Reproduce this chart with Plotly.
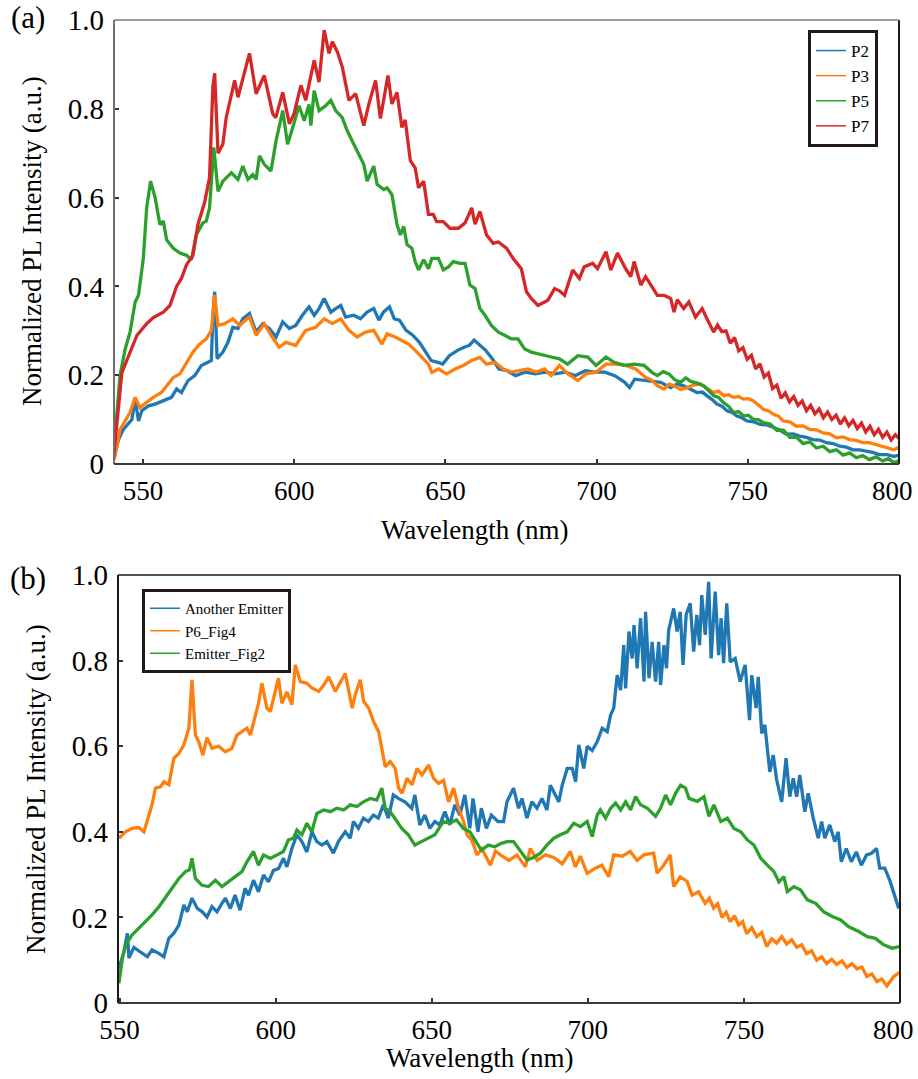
import plotly.graph_objects as go

# ---------------- Panel (a) data ----------------
p2_wl = [540.0, 541.9, 543.5, 545.2, 546.3, 547.4, 548.5, 549.6, 551.8, 554.0,
         556.7, 559.4, 561.1, 562.7, 564.9, 567.1, 569.3, 571.5, 572.6, 573.1,
         573.7, 574.5, 576.4, 578.1, 579.7, 581.4, 583.0, 585.2, 587.4, 589.6,
         591.8, 594.0, 596.2, 598.4, 600.5, 602.7, 604.9, 606.6, 608.2, 609.9,
         612.1, 613.7, 615.4, 617.0, 619.7, 621.9, 624.1, 626.3, 628.0, 629.5,
         631.5, 633.1, 634.8, 637.0, 639.2, 641.4, 643.6, 645.3, 647.5, 649.1,
         651.3, 654.0, 656.2, 657.9, 659.5, 661.1, 663.3, 665.5, 667.7, 670.4,
         673.2, 676.4, 679.7, 683.0, 686.3, 689.6, 692.9, 696.2, 699.5, 702.7,
         706.0, 709.3, 710.9, 712.6, 715.9, 719.2, 721.2, 724.5, 726.6, 728.8,
         731.0, 733.2, 734.9, 736.5, 738.2, 739.8, 741.5, 743.1, 744.8, 746.4,
         748.0, 749.7, 751.9, 754.1, 756.3, 758.5, 760.7, 762.8, 765.0, 767.2,
         769.4, 771.6, 773.8, 776.0, 778.2, 780.4, 782.6, 784.8, 787.0, 789.1,
         791.3, 793.5, 796.0, 798.4, 800.0]
p2_val = [0.005, 0.055, 0.078, 0.090, 0.100, 0.146, 0.097, 0.120, 0.131, 0.135,
          0.142, 0.150, 0.169, 0.161, 0.188, 0.199, 0.222, 0.229, 0.233, 0.335,
          0.388, 0.237, 0.252, 0.274, 0.308, 0.305, 0.327, 0.339, 0.297, 0.316,
          0.305, 0.286, 0.320, 0.305, 0.312, 0.335, 0.354, 0.335, 0.350, 0.373,
          0.342, 0.350, 0.357, 0.331, 0.335, 0.327, 0.342, 0.350, 0.324, 0.342,
          0.354, 0.327, 0.324, 0.301, 0.290, 0.274, 0.252, 0.233, 0.229, 0.225,
          0.244, 0.256, 0.263, 0.267, 0.279, 0.270, 0.256, 0.237, 0.214, 0.210,
          0.199, 0.207, 0.203, 0.207, 0.203, 0.207, 0.199, 0.210, 0.207, 0.207,
          0.199, 0.184, 0.172, 0.191, 0.188, 0.184, 0.184, 0.172, 0.180, 0.176,
          0.168, 0.161, 0.162, 0.154, 0.145, 0.135, 0.130, 0.120, 0.116, 0.108,
          0.104, 0.097, 0.095, 0.089, 0.088, 0.082, 0.076, 0.067, 0.068, 0.063,
          0.060, 0.055, 0.054, 0.048, 0.046, 0.040, 0.038, 0.032, 0.032, 0.029,
          0.026, 0.021, 0.021, 0.017, 0.020]

p3_wl = [540.5, 542.4, 544.1, 545.7, 547.4, 549.0, 551.2, 553.4, 556.1, 557.8,
         560.0, 562.2, 564.4, 566.5, 568.7, 570.9, 572.6, 573.7, 574.8, 577.0,
         579.7, 581.9, 585.2, 587.4, 590.1, 592.3, 595.0, 597.2, 600.5, 603.8,
         607.1, 609.9, 612.6, 615.4, 618.1, 620.8, 623.6, 626.3, 629.0, 630.7,
         633.4, 635.6, 637.8, 640.0, 642.2, 644.4, 645.5, 647.7, 650.4, 653.2,
         655.9, 658.7, 661.4, 663.6, 666.4, 669.1, 671.8, 674.6, 677.3, 680.0,
         682.8, 685.0, 687.7, 690.5, 693.8, 696.5, 699.8, 703.1, 706.4, 709.6,
         712.9, 716.2, 718.0, 720.1, 722.3, 724.0, 725.6, 727.8, 730.0, 732.2,
         734.4, 736.5, 738.7, 740.3, 742.0, 743.6, 745.3, 746.9, 748.6, 750.2,
         751.9, 753.5, 755.2, 756.8, 758.5, 760.1, 761.7, 763.9, 766.1, 768.3,
         770.5, 772.7, 774.9, 777.1, 779.3, 781.5, 783.7, 785.9, 788.0, 790.2,
         792.4, 795.0, 798.4, 800.0]
p3_val = [0.010, 0.078, 0.097, 0.116, 0.150, 0.127, 0.139, 0.150, 0.161, 0.176,
          0.195, 0.203, 0.229, 0.252, 0.270, 0.282, 0.301, 0.380, 0.312, 0.316,
          0.327, 0.312, 0.331, 0.290, 0.316, 0.290, 0.263, 0.274, 0.267, 0.301,
          0.308, 0.327, 0.316, 0.327, 0.301, 0.286, 0.297, 0.301, 0.270, 0.293,
          0.286, 0.279, 0.270, 0.256, 0.240, 0.225, 0.206, 0.214, 0.203, 0.214,
          0.222, 0.233, 0.240, 0.225, 0.229, 0.214, 0.207, 0.210, 0.214, 0.207,
          0.214, 0.199, 0.222, 0.203, 0.188, 0.203, 0.207, 0.225, 0.225, 0.222,
          0.214, 0.195, 0.190, 0.176, 0.169, 0.180, 0.176, 0.168, 0.172, 0.178,
          0.180, 0.170, 0.161, 0.164, 0.154, 0.156, 0.150, 0.152, 0.146, 0.147,
          0.142, 0.133, 0.123, 0.120, 0.112, 0.108, 0.097, 0.095, 0.085, 0.086,
          0.078, 0.077, 0.070, 0.068, 0.059, 0.061, 0.055, 0.053, 0.048, 0.048,
          0.044, 0.040, 0.032, 0.038]

p5_wl = [540.2, 542.4, 544.1, 545.7, 547.4, 548.5, 550.1, 551.2, 552.5, 554.0,
         555.6, 556.7, 557.8, 560.0, 562.2, 564.4, 566.0, 567.6, 569.8, 570.9,
         572.0, 573.4, 574.8, 576.4, 579.2, 581.4, 583.0, 584.7, 586.3, 587.4,
         588.5, 590.1, 592.3, 594.0, 596.2, 597.8, 599.5, 601.6, 603.3, 604.9,
         605.5, 606.6, 608.2, 610.4, 612.1, 613.7, 615.9, 617.5, 619.7, 621.4,
         623.0, 624.1, 626.3, 627.4, 629.6, 630.7, 632.3, 634.0, 635.1, 636.2,
         637.3, 638.9, 640.0, 641.1, 642.8, 644.4, 645.5, 647.7, 649.3, 651.0,
         652.6, 654.8, 656.5, 658.1, 659.8, 661.4, 663.1, 665.2, 667.5, 669.6,
         671.8, 674.0, 676.2, 678.4, 680.6, 682.8, 685.0, 687.7, 690.4, 693.8,
         697.1, 699.8, 703.1, 705.8, 709.1, 712.4, 715.7, 718.4, 720.1, 722.0,
         723.9, 725.8, 727.8, 729.5, 731.1, 733.3, 735.5, 737.1, 738.7, 740.3,
         742.0, 743.6, 745.3, 746.9, 748.6, 750.2, 751.9, 753.5, 755.2, 757.4,
         759.6, 761.8, 763.9, 766.1, 768.3, 770.5, 772.7, 774.9, 777.1, 779.3,
         781.5, 783.7, 785.9, 788.0, 790.2, 792.4, 794.6, 796.5, 798.4, 800.0]
p5_val = [0.020, 0.199, 0.259, 0.297, 0.365, 0.380, 0.463, 0.577, 0.637, 0.600,
          0.539, 0.547, 0.505, 0.486, 0.475, 0.470, 0.460, 0.516, 0.543, 0.547,
          0.577, 0.713, 0.614, 0.637, 0.656, 0.641, 0.671, 0.641, 0.652, 0.641,
          0.694, 0.675, 0.660, 0.728, 0.796, 0.720, 0.758, 0.807, 0.773, 0.810,
          0.762, 0.841, 0.796, 0.807, 0.819, 0.796, 0.780, 0.751, 0.720, 0.698,
          0.675, 0.637, 0.671, 0.630, 0.618, 0.622, 0.607, 0.539, 0.516, 0.535,
          0.494, 0.486, 0.456, 0.437, 0.460, 0.440, 0.463, 0.463, 0.437, 0.444,
          0.456, 0.452, 0.452, 0.403, 0.395, 0.350, 0.335, 0.312, 0.297, 0.290,
          0.282, 0.282, 0.259, 0.252, 0.248, 0.244, 0.241, 0.237, 0.225, 0.244,
          0.241, 0.222, 0.241, 0.229, 0.222, 0.225, 0.222, 0.206, 0.199, 0.208,
          0.203, 0.190, 0.184, 0.194, 0.186, 0.182, 0.176, 0.165, 0.154, 0.150,
          0.138, 0.130, 0.116, 0.118, 0.108, 0.110, 0.100, 0.100, 0.093, 0.090,
          0.076, 0.076, 0.060, 0.060, 0.046, 0.050, 0.036, 0.040, 0.028, 0.032,
          0.020, 0.025, 0.014, 0.019, 0.010, 0.016, 0.007, 0.012, 0.003, 0.008]

p7_wl = [540.2, 543.0, 548.0, 551.2, 553.4, 556.7, 558.9, 561.1, 562.7, 564.4,
         566.5, 568.2, 570.4, 572.0, 573.1, 573.7, 574.8, 576.4, 577.5, 580.3,
         581.4, 583.6, 585.2, 587.4, 590.1, 592.9, 593.9, 596.2, 598.4, 600.0,
         602.2, 603.8, 605.5, 606.6, 608.2, 609.9, 611.5, 612.6, 614.3, 615.9,
         618.1, 620.3, 623.0, 624.7, 626.9, 628.5, 631.0, 632.3, 634.0, 635.6,
         636.7, 638.4, 640.0, 641.1, 642.8, 644.4, 646.0, 647.1, 649.3, 651.5,
         654.3, 656.5, 658.7, 659.8, 661.4, 663.6, 665.8, 667.5, 670.2, 672.4,
         675.1, 676.8, 678.4, 680.6, 683.9, 686.1, 687.7, 689.4, 692.1, 694.3,
         695.9, 698.7, 700.3, 703.1, 704.7, 706.9, 709.6, 711.3, 712.4, 714.6,
         716.2, 717.9, 720.1, 722.3, 724.5, 725.6, 726.7, 728.8, 730.5, 732.7,
         734.9, 736.5, 738.7, 740.0, 741.4, 742.8, 744.2, 745.6, 747.0, 748.4,
         749.8, 751.2, 752.6, 754.0, 755.4, 756.8, 758.2, 759.6, 761.0, 762.4,
         763.8, 765.2, 766.6, 768.0, 769.4, 770.8, 772.2, 773.6, 775.0, 776.4,
         777.8, 779.2, 780.6, 782.0, 783.4, 784.8, 786.2, 787.6, 789.0, 790.4,
         791.8, 793.2, 794.6, 796.0, 797.4, 798.8, 800.0]
p7_val = [0.010, 0.206, 0.290, 0.316, 0.330, 0.342, 0.357, 0.400, 0.418, 0.449,
          0.470, 0.540, 0.590, 0.645, 0.850, 0.880, 0.700, 0.720, 0.780, 0.864,
          0.826, 0.887, 0.925, 0.834, 0.875, 0.789, 0.780, 0.837, 0.766, 0.790,
          0.853, 0.819, 0.871, 0.909, 0.860, 0.977, 0.925, 0.951, 0.928, 0.894,
          0.819, 0.834, 0.762, 0.811, 0.864, 0.778, 0.875, 0.811, 0.837, 0.758,
          0.775, 0.683, 0.667, 0.622, 0.637, 0.562, 0.562, 0.546, 0.546, 0.531,
          0.531, 0.543, 0.577, 0.540, 0.569, 0.516, 0.497, 0.500, 0.486, 0.463,
          0.440, 0.388, 0.373, 0.357, 0.369, 0.395, 0.390, 0.380, 0.437, 0.418,
          0.444, 0.452, 0.440, 0.478, 0.437, 0.475, 0.440, 0.422, 0.456, 0.403,
          0.422, 0.403, 0.380, 0.380, 0.373, 0.342, 0.370, 0.350, 0.365, 0.331,
          0.350, 0.327, 0.297, 0.313, 0.298, 0.300, 0.272, 0.285, 0.255, 0.262,
          0.236, 0.245, 0.214, 0.226, 0.196, 0.205, 0.170, 0.178, 0.148, 0.160,
          0.140, 0.152, 0.132, 0.142, 0.120, 0.132, 0.113, 0.124, 0.104, 0.117,
          0.100, 0.110, 0.090, 0.104, 0.086, 0.098, 0.080, 0.092, 0.072, 0.085,
          0.066, 0.078, 0.060, 0.072, 0.054, 0.066, 0.058]

# ---------------- Panel (b) data ----------------
another_wl = [549.8, 551.4, 552.5, 553.0, 554.6, 556.7, 558.9, 560.4, 562.6, 564.2,
              565.8, 567.4, 569.0, 570.6, 571.7, 573.2, 574.9, 576.5, 578.0, 579.6,
              581.2, 582.8, 583.9, 585.5, 587.0, 588.6, 590.2, 591.3, 592.9, 594.5,
              596.1, 597.7, 599.3, 600.9, 602.5, 603.6, 605.2, 606.8, 608.4, 610.0,
              611.6, 613.2, 614.8, 616.4, 618.5, 620.1, 622.3, 623.9, 624.9, 626.5,
              628.1, 629.7, 631.3, 632.9, 634.5, 636.1, 637.7, 639.3, 641.4, 643.6,
              644.6, 646.2, 647.8, 649.4, 651.0, 652.6, 654.2, 655.8, 657.4, 659.0,
              660.6, 662.2, 663.2, 664.8, 665.9, 667.5, 669.1, 671.2, 673.0, 674.1,
              676.2, 677.8, 678.9, 680.5, 682.1, 683.7, 685.3, 686.9, 688.0, 689.6,
              690.7, 691.8, 693.4, 695.0, 696.1, 697.1, 698.7, 699.8, 701.4, 703.0,
              704.6, 706.2, 707.3, 708.3, 709.4, 710.5, 711.5, 712.1, 713.2, 714.2,
              714.8, 715.8, 716.9, 718.0, 718.5, 719.6, 720.6, 721.7, 722.7, 723.3,
              724.4, 725.2, 725.9, 727.5, 728.6, 729.6, 730.5, 731.5, 732.8, 733.9,
              734.9, 735.8, 736.5, 737.6, 738.7, 739.5, 740.8, 741.9, 742.7, 743.5,
              744.5, 745.6, 747.2, 748.8, 750.4, 751.8, 752.5, 753.9, 754.6, 755.7,
              756.7, 758.3, 759.4, 760.5, 762.1, 763.5, 764.7, 765.8, 766.9, 767.9,
              769.5, 770.6, 772.2, 773.8, 774.9, 775.9, 777.5, 779.1, 780.2, 781.2,
              782.8, 784.4, 786.0, 787.6, 789.3, 790.9, 792.5, 793.5, 795.1, 796.7,
              798.3, 799.6]
another_val = [0.081, 0.120, 0.163, 0.105, 0.130, 0.120, 0.108, 0.124, 0.116, 0.108,
               0.151, 0.163, 0.182, 0.229, 0.213, 0.245, 0.221, 0.213, 0.201, 0.225,
               0.213, 0.233, 0.245, 0.221, 0.252, 0.217, 0.268, 0.252, 0.287, 0.260,
               0.299, 0.283, 0.310, 0.314, 0.338, 0.318, 0.361, 0.393, 0.377, 0.353,
               0.400, 0.377, 0.369, 0.377, 0.350, 0.377, 0.400, 0.385, 0.424, 0.408,
               0.432, 0.424, 0.439, 0.432, 0.463, 0.432, 0.486, 0.478, 0.470, 0.455,
               0.486, 0.416, 0.439, 0.408, 0.424, 0.416, 0.447, 0.416, 0.463, 0.439,
               0.486, 0.408, 0.478, 0.400, 0.455, 0.408, 0.439, 0.424, 0.424, 0.470,
               0.502, 0.455, 0.478, 0.432, 0.470, 0.455, 0.478, 0.451, 0.509, 0.486,
               0.470, 0.509, 0.548, 0.548, 0.517, 0.603, 0.548, 0.600, 0.590, 0.610,
               0.642, 0.634, 0.673, 0.689, 0.766, 0.731, 0.836, 0.735, 0.868, 0.805,
               0.883, 0.782, 0.899, 0.751, 0.914, 0.759, 0.844, 0.751, 0.844, 0.743,
               0.836, 0.782, 0.871, 0.922, 0.868, 0.914, 0.790, 0.907, 0.934, 0.821,
               0.907, 0.836, 0.953, 0.860, 0.984, 0.805, 0.961, 0.813, 0.899, 0.794,
               0.934, 0.797, 0.805, 0.751, 0.790, 0.661, 0.766, 0.689, 0.762, 0.630,
               0.650, 0.540, 0.579, 0.521, 0.470, 0.572, 0.482, 0.525, 0.482, 0.533,
               0.447, 0.490, 0.432, 0.385, 0.424, 0.385, 0.416, 0.377, 0.400, 0.330,
               0.361, 0.330, 0.353, 0.322, 0.346, 0.350, 0.361, 0.315, 0.315, 0.287,
               0.252, 0.221]

p6_wl = [549.8, 551.9, 554.0, 556.2, 557.8, 559.4, 560.4, 561.5, 563.1, 564.2,
         565.8, 567.4, 569.0, 570.6, 572.2, 573.2, 574.3, 575.4, 576.7, 578.0,
         579.6, 581.7, 583.9, 586.0, 587.6, 589.2, 590.8, 591.9, 593.5, 594.5,
         595.6, 597.2, 598.3, 599.3, 600.9, 602.0, 603.6, 605.2, 606.3, 607.9,
         610.0, 611.6, 613.8, 615.4, 617.0, 619.1, 620.7, 622.3, 624.5, 625.5,
         627.1, 628.2, 629.8, 631.4, 633.0, 634.1, 635.1, 636.7, 638.3, 639.4,
         640.5, 642.1, 643.7, 645.3, 646.9, 649.0, 650.6, 652.2, 653.8, 655.4,
         657.0, 658.6, 660.2, 661.3, 662.9, 664.5, 666.1, 668.8, 670.4, 672.0,
         674.7, 677.3, 680.0, 681.6, 683.8, 686.4, 689.1, 691.8, 694.4, 696.0,
         697.6, 699.8, 702.4, 704.5, 706.7, 708.3, 711.0, 713.6, 715.8, 717.9,
         721.1, 722.2, 724.3, 726.4, 727.5, 729.6, 731.8, 733.4, 735.5, 737.6,
         738.9, 740.3, 741.6, 743.0, 744.3, 745.6, 747.0, 748.3, 749.6, 750.9,
         752.5, 754.1, 755.7, 757.3, 758.9, 760.5, 762.1, 763.7, 765.3, 766.9,
         768.5, 770.1, 771.7, 773.3, 774.9, 776.5, 778.1, 779.7, 781.4, 783.0,
         784.6, 786.2, 787.8, 789.4, 791.0, 792.6, 794.2, 795.8, 797.0, 798.0,
         800.0]
p6_val = [0.385, 0.400, 0.408, 0.410, 0.400, 0.439, 0.463, 0.502, 0.505, 0.517,
          0.510, 0.572, 0.583, 0.603, 0.642, 0.755, 0.626, 0.610, 0.579, 0.620,
          0.595, 0.600, 0.587, 0.595, 0.626, 0.634, 0.642, 0.626, 0.673, 0.700,
          0.747, 0.689, 0.681, 0.712, 0.759, 0.700, 0.727, 0.697, 0.790, 0.751,
          0.747, 0.736, 0.728, 0.743, 0.762, 0.728, 0.751, 0.770, 0.689, 0.720,
          0.755, 0.705, 0.689, 0.657, 0.634, 0.595, 0.552, 0.564, 0.548, 0.502,
          0.490, 0.525, 0.510, 0.548, 0.533, 0.556, 0.525, 0.513, 0.520, 0.470,
          0.502, 0.455, 0.424, 0.393, 0.380, 0.346, 0.360, 0.322, 0.355, 0.346,
          0.333, 0.346, 0.318, 0.361, 0.333, 0.346, 0.340, 0.325, 0.354, 0.318,
          0.343, 0.303, 0.315, 0.322, 0.295, 0.346, 0.343, 0.354, 0.333, 0.346,
          0.350, 0.303, 0.322, 0.346, 0.272, 0.295, 0.284, 0.252, 0.260, 0.233,
          0.245, 0.222, 0.232, 0.200, 0.212, 0.190, 0.204, 0.182, 0.190, 0.162,
          0.176, 0.155, 0.165, 0.132, 0.150, 0.140, 0.155, 0.138, 0.148, 0.130,
          0.136, 0.115, 0.122, 0.100, 0.108, 0.092, 0.102, 0.090, 0.098, 0.083,
          0.092, 0.080, 0.084, 0.062, 0.068, 0.050, 0.056, 0.040, 0.052, 0.062,
          0.072]

fig2_wl = [549.8, 550.9, 552.0, 554.0, 556.2, 558.3, 560.4, 562.6, 564.7, 566.8,
           569.0, 571.1, 572.4, 573.2, 574.3, 576.4, 578.5, 580.7, 582.8, 584.9,
           587.0, 589.2, 590.8, 592.9, 594.5, 596.1, 598.3, 600.4, 602.5, 604.1,
           605.7, 606.8, 608.4, 610.0, 611.6, 613.2, 615.4, 617.5, 619.6, 621.8,
           623.9, 626.0, 628.1, 630.3, 632.4, 634.0, 635.1, 636.7, 638.8, 640.4,
           642.5, 644.6, 646.7, 648.9, 651.0, 653.7, 655.8, 657.9, 660.1, 662.2,
           664.3, 665.9, 668.1, 670.2, 672.3, 674.1, 676.2, 678.4, 680.5, 682.6,
           684.8, 686.9, 689.1, 691.2, 693.4, 695.5, 697.6, 699.8, 701.4, 703.0,
           704.0, 705.7, 707.3, 708.9, 710.5, 712.1, 713.7, 715.3, 716.9, 719.1,
           721.7, 723.3, 724.9, 726.5, 728.1, 729.7, 731.3, 732.4, 735.1, 737.2,
           738.8, 740.4, 742.6, 744.7, 746.8, 749.0, 751.1, 753.2, 755.4, 757.5,
           759.6, 761.2, 762.8, 763.9, 766.0, 768.2, 770.3, 773.0, 775.6, 778.3,
           781.0, 783.6, 786.8, 789.5, 792.1, 794.8, 797.5, 799.9]
fig2_val = [0.046, 0.105, 0.136, 0.159, 0.175, 0.190, 0.206, 0.225, 0.245, 0.268,
            0.291, 0.307, 0.311, 0.338, 0.291, 0.275, 0.272, 0.287, 0.272, 0.283,
            0.295, 0.307, 0.330, 0.354, 0.322, 0.346, 0.338, 0.346, 0.354, 0.381,
            0.385, 0.404, 0.393, 0.420, 0.400, 0.443, 0.451, 0.447, 0.455, 0.451,
            0.463, 0.459, 0.470, 0.478, 0.474, 0.502, 0.455, 0.447, 0.424, 0.408,
            0.393, 0.369, 0.377, 0.385, 0.393, 0.424, 0.420, 0.428, 0.408, 0.400,
            0.377, 0.357, 0.369, 0.365, 0.373, 0.377, 0.377, 0.354, 0.334, 0.340,
            0.350, 0.369, 0.385, 0.393, 0.400, 0.420, 0.412, 0.424, 0.389, 0.439,
            0.451, 0.432, 0.455, 0.467, 0.451, 0.470, 0.451, 0.482, 0.463, 0.455,
            0.436, 0.455, 0.486, 0.463, 0.490, 0.509, 0.502, 0.478, 0.471, 0.482,
            0.436, 0.463, 0.424, 0.432, 0.408, 0.400, 0.381, 0.369, 0.338, 0.322,
            0.307, 0.283, 0.295, 0.260, 0.272, 0.264, 0.241, 0.233, 0.213, 0.202,
            0.194, 0.178, 0.167, 0.155, 0.151, 0.136, 0.128, 0.132]

x_ticks = [550, 600, 650, 700, 750, 800]
# last label padded with no-break spaces so it sits inside the page edge, as in the original
x_tick_text = ["550", "600", "650", "700", "750", "800\u00a0\u00a0"]
y_ticks = [0, 0.2, 0.4, 0.6, 0.8, 1.0]
y_tick_text = ["0", "0.2", "0.4", "0.6", "0.8", "1.0"]

panel_a = [("P2", p2_wl, p2_val, "#1f77b4"),
           ("P3", p3_wl, p3_val, "#ff7f0e"),
           ("P5", p5_wl, p5_val, "#2ca02c"),
           ("P7", p7_wl, p7_val, "#d62728")]
panel_b = [("Another Emitter", another_wl, another_val, "#1f77b4"),
           ("P6_Fig4", p6_wl, p6_val, "#ff7f0e"),
           ("Emitter_Fig2", fig2_wl, fig2_val, "#2ca02c")]

FONT = "Liberation Serif, Times New Roman, serif"
W, H = 918, 1079

fig = go.Figure()


def add_panel(series, xa, ya, legend_name):
    for name, wl, val, color in series:
        n = min(len(wl), len(val))
        fig.add_trace(go.Scatter(x=wl[:n], y=val[:n], mode="lines", name=name,
                                 line=dict(color=color, width=3.3),
                                 xaxis=xa, yaxis=ya, showlegend=False,
                                 hoverinfo="skip"))
    for name, wl, val, color in series:
        fig.add_trace(go.Scatter(x=[None], y=[None], mode="lines", name=name,
                                 line=dict(color=color, width=1.5),
                                 xaxis=xa, yaxis=ya, showlegend=True,
                                 legend=legend_name))


add_panel(panel_a, "x", "y", "legend")
add_panel(panel_b, "x2", "y2", "legend2")

# plot-area pixel boxes
a_left, a_right, a_top, a_bot = 114, 899, 20, 464
b_left, b_right, b_top, b_bot = 118, 900, 575, 1003

axis_common = dict(showgrid=False, zeroline=False, showline=False, automargin=False,
                   ticks="inside", ticklen=5, tickwidth=1.5, tickcolor="#333333",
                   ticklabeloverflow="allow")
x_font = dict(family=FONT, size=27, color="black")
y_font = dict(family=FONT, size=29, color="black")

fig.update_layout(
    width=W, height=H,
    margin=dict(l=0, r=0, t=0, b=0, pad=0, autoexpand=False),
    paper_bgcolor="white", plot_bgcolor="white",
    font=dict(family=FONT, color="black"),
    xaxis=dict(domain=[a_left / W, a_right / W], anchor="y", range=[540.4, 800],
               tickvals=x_ticks, ticktext=x_tick_text, ticklabelstandoff=8,
               tickfont=x_font, **axis_common),
    yaxis=dict(domain=[1 - a_bot / H, 1 - a_top / H], anchor="x", range=[0, 1],
               tickvals=y_ticks, ticktext=y_tick_text, ticklabelstandoff=9,
               tickfont=y_font, **axis_common),
    xaxis2=dict(domain=[b_left / W, b_right / W], anchor="y2", range=[549.5, 800],
                tickvals=x_ticks, ticktext=x_tick_text, ticklabelstandoff=8,
                tickfont=x_font, **axis_common),
    yaxis2=dict(domain=[1 - b_bot / H, 1 - b_top / H], anchor="x2", range=[0, 1],
                tickvals=y_ticks, ticktext=y_tick_text, ticklabelstandoff=9,
                tickfont=y_font, **axis_common),
    legend=dict(x=808 / W, y=1 - 30 / H, xanchor="left", yanchor="top",
                bgcolor="white", bordercolor="#231815", borderwidth=3,
                font=dict(family=FONT, size=17, color="black"),
                itemwidth=30, tracegroupgap=0),
    legend2=dict(x=142 / W, y=1 - 589 / H, xanchor="left", yanchor="top",
                 bgcolor="white", bordercolor="#231815", borderwidth=3,
                 font=dict(family=FONT, size=15, color="black"),
                 itemwidth=30, tracegroupgap=0),
)

# frames
frames = [("x", "y", "#707070", "#1a1a1a", "#7a7a7a", "#3a3a3a"),
          ("x2", "y2", "#1a1a1a", "#1a1a1a", "#1a1a1a", "#3a3a3a")]
for xa, ya, c_left, c_right, c_top, c_bot in frames:
    xr, yr = xa + " domain", ya + " domain"
    fig.add_shape(type="line", xref=xr, yref=yr, x0=0, x1=0, y0=0, y1=1,
                  line=dict(color=c_left, width=2), layer="above")
    fig.add_shape(type="line", xref=xr, yref=yr, x0=1, x1=1, y0=0, y1=1,
                  line=dict(color=c_right, width=2), layer="above")
    fig.add_shape(type="line", xref=xr, yref=yr, x0=0, x1=1, y0=1, y1=1,
                  line=dict(color=c_top, width=1.5), layer="above")
    fig.add_shape(type="line", xref=xr, yref=yr, x0=0, x1=1, y0=0, y1=0,
                  line=dict(color=c_bot, width=2), layer="above")

ann_font = dict(family=FONT, size=27, color="black")
panel_font = dict(family=FONT, size=31, color="black")
annotations = [
    dict(text="(a)", x=28 / W, y=1 - 18 / H, font=panel_font),
    dict(text="(b)", x=28 / W, y=1 - 578 / H, font=panel_font),
    dict(text="Wavelength (nm)", x=475 / W, y=1 - 530 / H, font=ann_font),
    dict(text="Wavelength (nm)", x=480 / W, y=1 - 1058 / H, font=ann_font),
    dict(text="Normalized PL Intensity (a.u.)", x=32 / W, y=1 - 241 / H,
         textangle=-90, font=ann_font),
    dict(text="Normalized PL Intensity (a.u.)", x=36 / W, y=1 - 789 / H,
         textangle=-90, font=ann_font),
]
for a in annotations:
    fig.add_annotation(xref="paper", yref="paper", showarrow=False,
                       xanchor="center", yanchor="middle", **a)

fig.write_html("out.html")
